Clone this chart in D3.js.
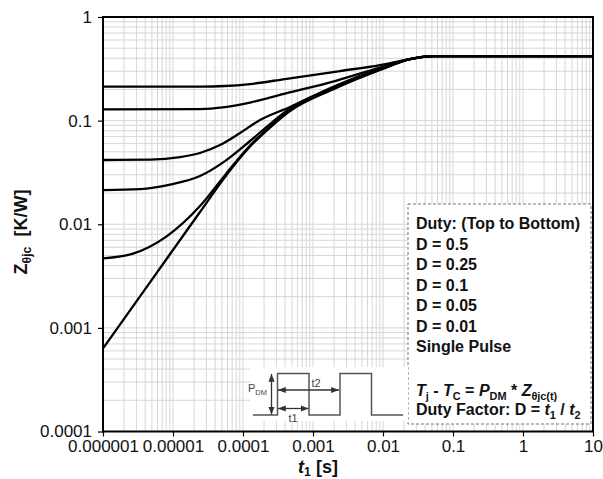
<!DOCTYPE html>
<html><head><meta charset="utf-8">
<script src="https://cdn.jsdelivr.net/npm/d3@7/dist/d3.min.js"></script>
<style>body{margin:0;background:#fff}text{font-family:"Liberation Sans",Arial,sans-serif}</style>
</head><body>
<svg id="c" width="603" height="479"></svg>
<script>
// ---- data ----
const xTicks = [1e-6, 1e-5, 1e-4, 1e-3, 1e-2, 1e-1, 1, 10];
const xTickLabels = ["0.000001", "0.00001", "0.0001", "0.001", "0.01", "0.1", "1", "10"];
const yTicks = [1e-4, 1e-3, 1e-2, 1e-1, 1];
const yTickLabels = ["0.0001", "0.001", "0.01", "0.1", "1"];
const legendTitle = "Duty: (Top to Bottom)";
const dutyLabels = ["D = 0.5", "D = 0.25", "D = 0.1", "D = 0.05", "D = 0.01", "Single Pulse"];

const seriesD50 = [[1e-6,0.2125],[2.43e-5,0.2129],[5.53e-5,0.2158],[1.26e-4,0.2255],[3.98e-4,0.252],[2.43e-3,0.3011],[9.06e-3,0.344],[2.43e-2,0.393],[5.18e-2,0.42],[10,0.42]];
const seriesD25 = [[1e-6,0.1285],[2.43e-5,0.1294],[5.53e-5,0.1353],[1.26e-4,0.1495],[3.98e-4,0.1826],[2.06e-3,0.241],[9.06e-3,0.3255],[2.43e-2,0.393],[5.18e-2,0.42],[10,0.42]];
const seriesD10 = [[1e-6,0.0417],[4.69e-6,0.0421],[1.26e-5,0.0445],[2.43e-5,0.0487],[4.69e-5,0.0581],[9.06e-5,0.0759],[1.75e-4,0.1013],[4.69e-4,0.1353],[2.06e-3,0.2158],[9.06e-3,0.3185],[2.43e-2,0.393],[5.18e-2,0.42],[10,0.42]];
const seriesD05 = [[1e-6,0.02138],[3.38e-6,0.02187],[9.06e-6,0.02416],[2.43e-5,0.0292],[5.53e-5,0.0407],[1.26e-4,0.0636],[2.43e-4,0.0927],[4.69e-4,0.1309],[2.06e-3,0.211],[9.06e-3,0.315],[2.43e-2,0.393],[5.18e-2,0.42],[10,0.42]];
const seriesD01 = [[1e-6,0.00469],[2.68e-6,0.00521],[8.21e-6,0.00769],[2.43e-5,0.01498],[5.53e-5,0.0298],[1.26e-4,0.0575],[2.43e-4,0.0877],[4.69e-4,0.1265],[2.06e-3,0.2064],[9.06e-3,0.3113],[2.43e-2,0.393],[5.18e-2,0.42],[10,0.42]];
const seriesSingle = [[1e-6,0.000634],[4.69e-6,0.00275],[2.43e-5,0.01312],[5.53e-5,0.0286],[1.26e-4,0.0562],[2.43e-4,0.0858],[4.69e-4,0.1238],[2.06e-3,0.2041],[9.06e-3,0.3078],[2.43e-2,0.393],[5.18e-2,0.42],[10,0.42]];
const allSeries = [seriesD50, seriesD25, seriesD10, seriesD05, seriesD01, seriesSingle];

// ---- layout ----
const L = 103, R = 593, T = 17, B = 431.5;
const svg = d3.select("#c");
const x = d3.scaleLog().domain([1e-6, 10]).range([L, R]);
const y = d3.scaleLog().domain([1e-4, 1]).range([B, T]);

// grid
const grid = svg.append("g");
grid.selectAll("line.vx").data(x.ticks()).join("line")
  .attr("x1", d => x(d)).attr("x2", d => x(d)).attr("y1", T).attr("y2", B)
  .attr("stroke", "#d6d6d6").attr("stroke-width", 1);
grid.selectAll("line.hy").data(y.ticks()).join("line")
  .attr("y1", d => y(d)).attr("y2", d => y(d)).attr("x1", L).attr("x2", R)
  .attr("stroke", "#d6d6d6").attr("stroke-width", 1);

// axes
const xAxis = d3.axisBottom(x).tickValues(xTicks).tickFormat((d, i) => xTickLabels[i]).tickSize(5).tickPadding(3);
const yAxis = d3.axisLeft(y).tickValues(yTicks).tickFormat((d, i) => yTickLabels[i]).tickSize(5).tickPadding(6);
const gx = svg.append("g").attr("transform", `translate(0,${B})`).call(xAxis);
const gy = svg.append("g").attr("transform", `translate(${L},0)`).call(yAxis);
[gx, gy].forEach(g => {
  g.select(".domain").remove();
  g.selectAll(".tick line").attr("stroke", "#000").attr("stroke-width", 1.2);
  g.selectAll(".tick text").attr("font-size", 17).attr("fill", "#111")
    .style("font-family", '"Liberation Sans", Arial, sans-serif');
});

// legend box (white, covers grid)
const lg = svg.append("g");
lg.append("rect").attr("x", 408).attr("y", 204).attr("width", 183).attr("height", 220)
  .attr("fill", "#fff").attr("stroke", "#777").attr("stroke-width", 1).attr("stroke-dasharray", "3,2");

// inset background
svg.append("rect").attr("x", 250).attr("y", 367).attr("width", 158).attr("height", 54).attr("fill", "#fff");

// curves
const line = d3.line().x(d => x(d[0])).y(d => y(d[1])).curve(d3.curveMonotoneX);
svg.append("g").selectAll("path").data(allSeries).join("path")
  .attr("d", line).attr("fill", "none").attr("stroke", "#000").attr("stroke-width", 2.3)
  .attr("stroke-linejoin", "round");

// frame
svg.append("rect").attr("x", L).attr("y", T).attr("width", R - L).attr("height", B - T)
  .attr("fill", "none").attr("stroke", "#000").attr("stroke-width", 2);

// rich text helper (subscripts via baseline-shift)
function rich(sel, parts) {
  parts.forEach(p => {
    const s = sel.append("tspan").text(p.t);
    if (p.it) s.attr("font-style", "italic");
    if (p.sub) s.attr("font-size", "0.68em").attr("baseline-shift", -(p.dy || 4));
  });
}

// legend text
const lx = 416, ly0 = 229, lstep = 20.5;
lg.append("text").attr("x", lx).attr("y", ly0).attr("font-size", 16).attr("font-weight", "bold").attr("fill", "#111").text(legendTitle);
lg.selectAll("text.d").data(dutyLabels).join("text").attr("class", "d")
  .attr("x", lx).attr("y", (d, i) => ly0 + lstep * (i + 1))
  .attr("font-size", 16).attr("font-weight", "bold").attr("fill", "#111").text(d => d);
const f1 = lg.append("text").attr("x", lx).attr("y", 396).attr("font-size", 16).attr("font-weight", "bold").attr("fill", "#111");
rich(f1, [{t: "T", it: true}, {t: "j", sub: true}, {t: " - "}, {t: "T", it: true}, {t: "C", sub: true}, {t: " = "},
  {t: "P", it: true}, {t: "DM", sub: true}, {t: " * "}, {t: "Z", it: true}, {t: "\u03b8jc(t)", sub: true}]);
const f2 = lg.append("text").attr("x", lx).attr("y", 415).attr("font-size", 16).attr("font-weight", "bold").attr("fill", "#111");
rich(f2, [{t: "Duty Factor: D = "}, {t: "t", it: true}, {t: "1", sub: true}, {t: " / "}, {t: "t", it: true}, {t: "2", sub: true}]);

// inset pulse diagram
const ins = svg.append("g");
const defs = svg.append("defs");
defs.append("marker").attr("id", "ah").attr("viewBox", "0 0 10 10").attr("refX", 10).attr("refY", 5)
  .attr("markerWidth", 6).attr("markerHeight", 6).attr("orient", "auto-start-reverse")
  .append("path").attr("d", "M0,1L10,5L0,9Z").attr("fill", "#333");
const pulsePts = [[253, 415], [277.5, 415], [277.5, 373.5], [309, 373.5], [309, 415], [340, 415], [340, 373.5], [371.5, 373.5], [371.5, 415], [403, 415]];
ins.append("path").attr("d", d3.line()(pulsePts)).attr("fill", "none").attr("stroke", "#555").attr("stroke-width", 1.5);
const arrows = [[[271.5, 374], [271.5, 414.5]], [[278, 390], [339, 390]], [[278, 408.5], [308.5, 408.5]]];
ins.selectAll("path.ar").data(arrows).join("path").attr("class", "ar")
  .attr("d", d => d3.line()(d)).attr("stroke", "#333").attr("stroke-width", 1.3).attr("fill", "none")
  .attr("marker-start", "url(#ah)").attr("marker-end", "url(#ah)");
const pdm = ins.append("text").attr("x", 248).attr("y", 392).attr("font-size", 11).attr("fill", "#444");
rich(pdm, [{t: "P"}, {t: "DM", sub: true, dy: 3}]);
ins.append("text").attr("x", 316).attr("y", 387).attr("text-anchor", "middle").attr("font-size", 11).attr("fill", "#444").text("t2");
ins.append("text").attr("x", 293).attr("y", 422).attr("text-anchor", "middle").attr("font-size", 11).attr("fill", "#444").text("t1");

// axis titles
const xt = svg.append("text").attr("x", 318).attr("y", 473).attr("text-anchor", "middle")
  .attr("font-size", 18).attr("font-weight", "bold").attr("fill", "#111");
rich(xt, [{t: "t", it: true}, {t: "1", sub: true, dy: 3}, {t: " [s]"}]);
const yt = svg.append("text").attr("transform", "translate(27,232) rotate(-90)").attr("text-anchor", "middle")
  .attr("font-size", 18).attr("font-weight", "bold").attr("fill", "#111");
rich(yt, [{t: "Z"}, {t: "\u03b8jc", sub: true}, {t: "\u00a0\u00a0[K/W]"}]);
</script>
</body></html>
